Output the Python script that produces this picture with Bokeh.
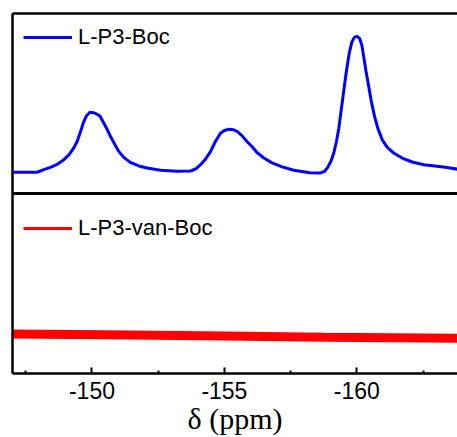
from bokeh.plotting import figure
from bokeh.models import (Range1d, LinearAxis, FixedTicker, Span, Legend, LegendItem)
from bokeh.embed import file_html
from bokeh.resources import INLINE

# ---- data ----
# top panel: L-P3-Boc spectrum, chemical shift (ppm) vs intensity (a.u., panel fraction)
boc_ppm = [-147.05, -147.93, -148.18, -148.43, -148.69, -148.94, -149.13, -149.31,
           -149.44, -149.57, -149.67, -149.79, -149.92, -150.05, -150.17, -150.30,
           -150.42, -150.57, -150.70, -150.85, -151.01, -151.20, -151.45, -151.77,
           -152.08, -152.59, -153.22, -153.72, -153.91, -154.10, -154.29, -154.48,
           -154.66, -154.85, -155.00, -155.17, -155.35, -155.50, -155.67, -155.85,
           -156.04, -156.23, -156.49, -156.80, -157.18, -157.62, -158.22, -158.63,
           -158.78, -158.90, -159.03, -159.13, -159.23, -159.32, -159.41, -159.51,
           -159.61, -159.71, -159.81, -159.91, -160.01, -160.11, -160.19, -160.26,
           -160.35, -160.45, -160.55, -160.67, -160.79, -160.96, -161.15, -161.39,
           -161.71, -162.09, -162.53, -163.03, -163.41, -163.80]
boc_int = [0.118, 0.118, 0.133, 0.145, 0.162, 0.188, 0.215, 0.252,
           0.289, 0.344, 0.391, 0.431, 0.451, 0.449, 0.442, 0.431,
           0.399, 0.357, 0.317, 0.276, 0.234, 0.201, 0.173, 0.153,
           0.142, 0.129, 0.123, 0.125, 0.136, 0.160, 0.192, 0.234,
           0.289, 0.335, 0.350, 0.357, 0.354, 0.343, 0.320, 0.289,
           0.261, 0.228, 0.197, 0.170, 0.148, 0.129, 0.115, 0.114,
           0.123, 0.145, 0.182, 0.225, 0.289, 0.363, 0.464, 0.575,
           0.685, 0.777, 0.841, 0.869, 0.873, 0.860, 0.823, 0.759,
           0.676, 0.593, 0.510, 0.427, 0.363, 0.298, 0.256, 0.225,
           0.197, 0.175, 0.160, 0.151, 0.145, 0.135]

# bottom panel: L-P3-van-Boc (flat, no signal)
van_ppm = [-147.0, -151.5, -155.0, -158.8, -163.8]
van_int = [0.219, 0.214, 0.209, 0.201, 0.196]

x_ticks = [-150, -155, -160]
x_minor = [-147.5, -152.5, -157.5, -162.5]
x_labels = {-150: "-150", -155: "-155", -160: "-160"}
series_names = ["L-P3-Boc", "L-P3-van-Boc"]
colors = ["#0000ff", "#ff0000"]

# ---- figure ----
p = figure(width=457, height=437, output_backend="svg", toolbar_location=None,
           x_range=Range1d(-147.0, -163.8), y_range=Range1d(0, 2),
           x_axis_location=None, y_axis_location=None,
           min_border_left=12, min_border_right=0, min_border_top=13, min_border_bottom=0)
p.outline_line_color = None
p.grid.visible = False
p.background_fill_color = "white"
p.border_fill_color = "white"

top_y = [1 + v for v in boc_int]
r_top = p.line(boc_ppm, top_y, line_color=colors[0], line_width=3)
p.line(van_ppm, van_int, line_color=colors[1], line_width=9)
r_bot = p.line(van_ppm, van_int, line_color=colors[1], line_width=3)  # legend key

# bottom axis with ticks
xa = LinearAxis(ticker=FixedTicker(ticks=x_ticks, minor_ticks=x_minor),
                major_label_overrides=x_labels)
xa.axis_line_width = 2.5
xa.major_tick_in = 6
xa.major_tick_out = 0
xa.minor_tick_in = 3
xa.minor_tick_out = 0
xa.major_tick_line_width = 2
xa.minor_tick_line_width = 2
xa.major_label_text_font = "Liberation Sans"
xa.major_label_text_font_size = "23px"
xa.major_label_text_color = "black"
xa.major_label_standoff = 8
xa.axis_label = "δ (ppm)"
xa.axis_label_text_font = "Liberation Serif"
xa.axis_label_text_font_style = "normal"
xa.axis_label_text_font_size = "30px"
xa.axis_label_text_color = "black"
xa.axis_label_standoff = 0
p.add_layout(xa, "below")

# left and top frame lines (no ticks)
for loc in ("left", "above"):
    ax = LinearAxis(ticker=FixedTicker(ticks=[]))
    ax.axis_line_width = 2.5
    ax.major_tick_out = 0
    ax.major_tick_in = 0
    ax.minor_tick_out = 0
    ax.minor_tick_in = 0
    ax.major_label_text_font_size = "0px"
    p.add_layout(ax, loc)

# panel divider
p.add_layout(Span(location=1, dimension="width", line_color="black", line_width=3))

# legends
for r, name, loc in ((r_top, series_names[0], (11, 323)), (r_bot, series_names[1], (11, 132))):
    lg = Legend(items=[LegendItem(label=name, renderers=[r])], location=loc,
                glyph_width=49, glyph_height=20, label_height=20, label_standoff=6,
                padding=0, margin=0, border_line_color=None, background_fill_alpha=0,
                label_text_font="Liberation Sans", label_text_font_size="22px",
                label_text_color="black")
    p.add_layout(lg)

open("out.html", "w").write(file_html(p, INLINE))
